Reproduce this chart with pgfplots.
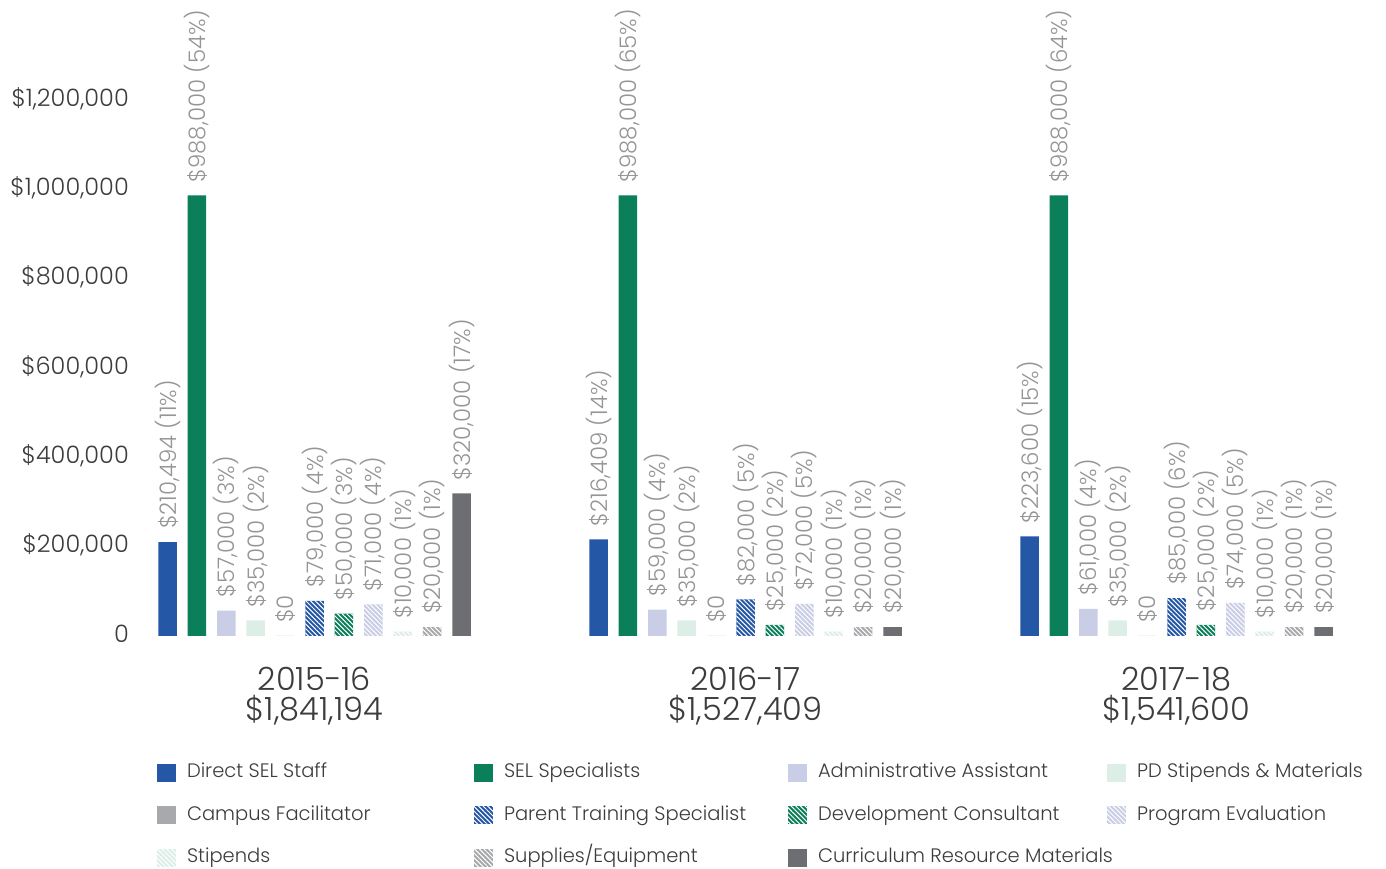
\documentclass[border=0pt]{standalone}
\usepackage{fontspec}
\setmainfont{Poppins}[UprightFont=* Light]
\usepackage{pgfplots}
\pgfplotsset{compat=1.18}
\usetikzlibrary{patterns.meta}

\definecolor{cblue}{HTML}{2457A5}
\definecolor{cgreen}{HTML}{0B7F5A}
\definecolor{clav}{HTML}{C9CDE6}
\definecolor{cmint}{HTML}{DDEEE7}
\definecolor{cgray}{HTML}{A7A9AC}
\definecolor{cdark}{HTML}{6D6E71}
\definecolor{labgray}{HTML}{959595}
\definecolor{txt}{HTML}{3C3C3C}

\tikzset{hatch/.style={postaction={pattern={Lines[angle=-45,distance=3.3pt,line width=1pt]},pattern color=white}}}
\newcommand{\lega}[1]{\makebox[287pt][l]{#1}}
\newcommand{\legb}[1]{\makebox[284pt][l]{#1}}
\newcommand{\legc}[1]{\makebox[289pt][l]{#1}}

\begin{document}
\begin{tikzpicture}
\path[use as bounding box] (0pt,0pt) rectangle (1386pt,869pt);
\begin{axis}[
  at={(140pt,233pt)}, anchor=south west,
  scale only axis, width=1210pt, height=624.4pt,
  xmin=-0.4049, xmax=2.4025, ymin=0, ymax=1400,
  clip=false,
  ybar=10.9pt, bar width=18.5pt,
  axis line style={draw=none}, major tick length=0pt,
  xtick={0,1,2},
  xticklabels={{2015-16\\\$1,841,194},{2016-17\\\$1,527,409},{2017-18\\\$1,541,600}},
  xticklabel style={align=center, inner sep=0pt, yshift=-31pt, text=txt,
    font=\fontsize{32}{29.5}\selectfont},
  ytick={0,200,400,600,800,1000,1200},
  yticklabels={0,{\$200,000},{\$400,000},{\$600,000},{\$800,000},{\$1,000,000},{\$1,200,000}},
  yticklabel style={inner sep=0pt, xshift=-11pt, yshift=2pt, text=txt,
    font=\fontsize{24}{24}\selectfont},
  point meta=explicit symbolic,
  nodes near coords={\pgfplotspointmeta},
  nodes near coords style={rotate=90, anchor=west, inner xsep=13pt, inner ysep=0pt,
    text=labgray, font=\fontsize{22.8}{22.8}\selectfont},
  every axis plot/.append style={draw=none},
  legend columns=4,
  legend cell align=left,
  legend image code/.code={\fill[#1] (0pt,-9pt) rectangle (19pt,9pt);},
  legend style={at={(0.01405,-0.2026)}, anchor=north west, draw=none, fill=none,
    inner sep=0pt, outer sep=0pt, row sep=22.5pt,
    font=\fontsize{19.5}{19.5}\selectfont, text=txt,
    nodes={inner sep=0pt, text height=15pt, text depth=5pt},
    /tikz/every odd column/.append style={column sep=11pt},
    /tikz/every even column/.append style={column sep=0pt}},
]
\addplot[fill=cblue] coordinates {(0,210.494) [\$210,494 (11\%)] (1,216.409) [\$216,409 (14\%)] (2,223.6) [\$223,600 (15\%)]};
\addplot[fill=cgreen] coordinates {(0,988) [\$988,000 (54\%)] (1,988) [\$988,000 (65\%)] (2,988) [\$988,000 (64\%)]};
\addplot[fill=clav] coordinates {(0,57) [\$57,000 (3\%)] (1,59) [\$59,000 (4\%)] (2,61) [\$61,000 (4\%)]};
\addplot[fill=cmint] coordinates {(0,35) [\$35,000 (2\%)] (1,35) [\$35,000 (2\%)] (2,35) [\$35,000 (2\%)]};
\addplot[fill=cgray] coordinates {(0,0) [\$0] (1,0) [\$0] (2,0) [\$0]};
\addplot[fill=cblue, hatch] coordinates {(0,79) [\$79,000 (4\%)] (1,82) [\$82,000 (5\%)] (2,85) [\$85,000 (6\%)]};
\addplot[fill=cgreen, hatch] coordinates {(0,50) [\$50,000 (3\%)] (1,25) [\$25,000 (2\%)] (2,25) [\$25,000 (2\%)]};
\addplot[fill=clav, hatch] coordinates {(0,71) [\$71,000 (4\%)] (1,72) [\$72,000 (5\%)] (2,74) [\$74,000 (5\%)]};
\addplot[fill=cmint, hatch] coordinates {(0,10) [\$10,000 (1\%)] (1,10) [\$10,000 (1\%)] (2,10) [\$10,000 (1\%)]};
\addplot[fill=cgray, hatch] coordinates {(0,20) [\$20,000 (1\%)] (1,20) [\$20,000 (1\%)] (2,20) [\$20,000 (1\%)]};
\addplot[fill=cdark] coordinates {(0,320) [\$320,000 (17\%)] (1,20) [\$20,000 (1\%)] (2,20) [\$20,000 (1\%)]};
\legend{\lega{Direct SEL Staff}, \legb{SEL Specialists}, \legc{Administrative Assistant}, PD Stipends \& Materials,
  \lega{Campus Facilitator}, \legb{Parent Training Specialist}, \legc{Development Consultant}, Program Evaluation,
  \lega{Stipends}, \legb{Supplies/Equipment}, \legc{Curriculum Resource Materials}}
\end{axis}
\end{tikzpicture}
\end{document}
